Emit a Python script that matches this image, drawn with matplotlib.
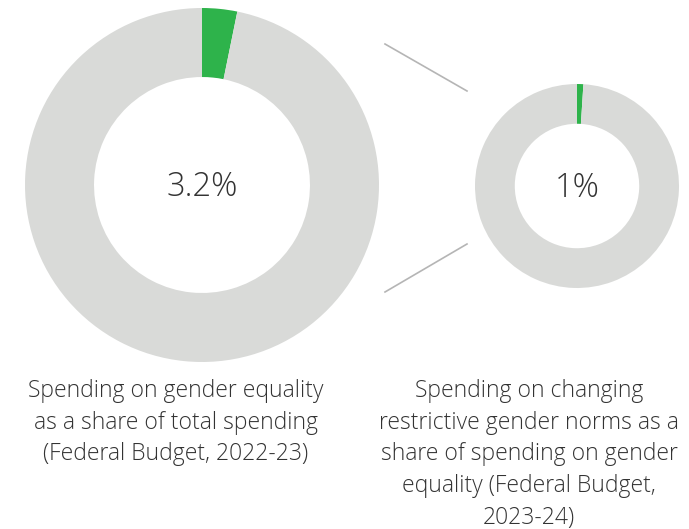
import matplotlib
matplotlib.use("Agg")
import matplotlib.pyplot as plt

shares = [3.2, 1.0]
labels = ["3.2%", "1%"]
captions = [
    "Spending on gender equality\nas a share of total spending\n(Federal Budget, 2022-23)",
    "Spending on changing\nrestrictive gender norms as a\nshare of spending on gender\nequality (Federal Budget,\n2023-24)",
]

GREEN = "#2eb34b"
GRAY = "#d9dad8"
H = 529

fig = plt.figure(figsize=(6.89, 5.29), dpi=100)
ax = fig.add_axes([0, 0, 1, 1])

centers = [(202, H - 185), (577, H - 186)]
radii = [177, 102]
for share, c, r, lab in zip(shares, centers, radii, labels):
    ax.pie([share, 100 - share], colors=[GREEN, GRAY], startangle=90, counterclock=False,
           center=c, radius=r, wedgeprops=dict(width=r * 0.39, linewidth=0))
    ax.text(c[0], c[1] - 2, lab, ha="center", va="center", fontsize=23.5,
            family="Open Sans", fontweight="light", color="#333333")

ax.plot([385, 467], [H - 44, H - 91], color="#b5b5b5", lw=1.2)
ax.plot([385, 467], [H - 292, H - 244], color="#b5b5b5", lw=1.2)

ax.text(176, H - 379, captions[0], ha="center", va="top", fontsize=16.5, family="Open Sans",
        fontweight="light", color="#333333", linespacing=1.43)
ax.text(529, H - 379, captions[1], ha="center", va="top", fontsize=16.5, family="Open Sans",
        fontweight="light", color="#333333", linespacing=1.43)

ax.set_xlim(0, 689)
ax.set_ylim(0, H)
ax.set_aspect("equal")
ax.axis("off")
fig.savefig("out.png", dpi=100)
